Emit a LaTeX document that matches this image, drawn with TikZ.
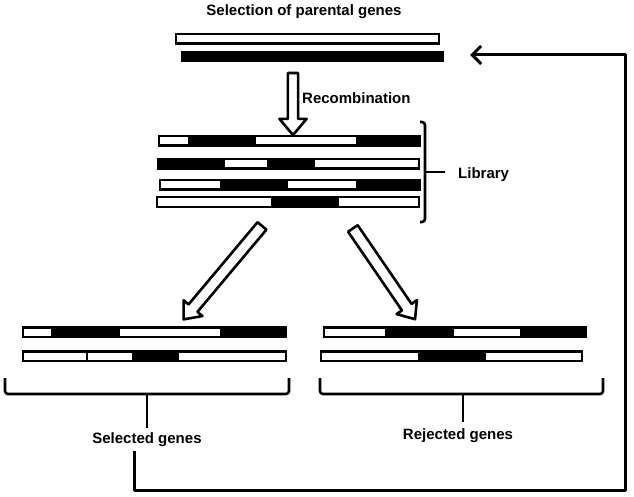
\documentclass[tikz,border=0pt]{standalone}
\usepackage{fontspec}
\setmainfont{Liberation Sans}
\usetikzlibrary{arrows.meta,shapes.arrows}
\tikzset{
    every picture/.style={line join=round},
    lbl/.style={font=\fontsize{15}{18}\selectfont\bfseries,inner sep=0pt},
    hollowarrow/.style={single arrow,draw=black,fill=white,line width=2.6pt,
      inner xsep=0pt,single arrow head indent=0pt,single arrow tip angle=80},
    bracket/.style={draw=black,line width=2.6pt,rounded corners=3pt},
    loopline/.style={draw=black,line width=3pt,
      -{Straight Barb[length=9pt,width=18pt,line width=3pt]}}
}
% gene bar: left, right, top, white pieces
\newcommand{\genebar}[4]{%
  \fill[black] (#1,#3) rectangle (#2,#3+12);
  \foreach \a/\b in {#4} \fill[white] (\a+2,#3+2.5) rectangle (\b-2,#3+9.5);
}

\begin{document}
\begin{tikzpicture}[x=1pt,y=-1pt]
  \useasboundingbox (0,0) rectangle (634,497);

  % parental genes
  \node[lbl] (seltitle) at (304,12) {Selection of parental genes};
  \genebar{175}{440}{33}{175/440}
  \fill[black] (181,51) rectangle (444,62);

  \node[hollowarrow,minimum height=62pt,inner ysep=3.8pt,
    single arrow head extend=8.5pt,rotate=-90] (recombarrow) at (293,101) {};
  \node[lbl,anchor=west] (recomblabel) at (302,98) {Recombination};

  % library
  \genebar{158}{421}{135}{158/190,254/358}
  \genebar{157}{420}{158}{223/269,313/420}
  \genebar{159}{421}{179}{159/222,286/358}
  \genebar{156}{420}{196}{156/273,337/420}
  \draw[bracket] (420,122) -- (425,122) -- (425,222) -- (420,222);
  \draw[draw=black,line width=2.6pt] (425,172) -- (445,172);
  \node[lbl,anchor=west] (liblabel) at (458,175) {Library};

  \node[hollowarrow,minimum height=122pt,inner ysep=4.5pt,
    single arrow head extend=6.5pt,rotate=-130] (selarrow) at (225,270) {};
  \node[hollowarrow,minimum height=110pt,inner ysep=4.5pt,
    single arrow head extend=6.5pt,rotate=-55.6] (rejarrow) at (382,271) {};

  % selected genes
  \genebar{22}{287}{326}{22/53,118/222}
  \genebar{22}{287}{350}{22/88,86/134,177/287}
  \draw[bracket] (5,378) -- (5,394) -- (289,394) -- (289,378);
  \draw[draw=black,line width=2.6pt] (147,394) -- (147,428);
  \node[lbl] (sellabel) at (147,440) {Selected genes};

  % rejected genes
  \genebar{323}{587}{326}{323/387,452/522}
  \genebar{320}{583}{350}{320/420,484/583}
  \draw[bracket] (320,378) -- (320,394) -- (603,394) -- (603,378);
  \draw[draw=black,line width=2.6pt] (463,394) -- (463,422);
  \node[lbl] (rejlabel) at (458,436) {Rejected genes};

  % feedback loop
  \coordinate (loopstart) at (134,451);
  \coordinate (loopcorner) at (625,490);
  \coordinate (parentin) at (470,55);
  \draw[loopline] (loopstart) |- (loopcorner) |- (parentin);
\end{tikzpicture}
\end{document}
